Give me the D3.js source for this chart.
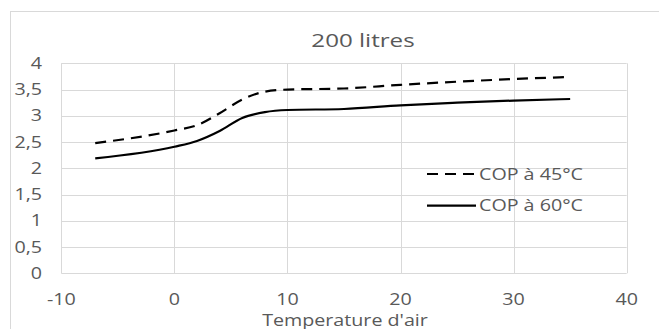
<!DOCTYPE html>
<html><head><meta charset="utf-8">
<script src="https://cdn.jsdelivr.net/npm/d3@7"></script>
<style>html,body{margin:0;padding:0;background:#fff;}svg{display:block;}</style>
</head><body>
<script>
const title = "200 litres";
const xTitle = "Temperature d'air";
const temps = [-7, 0, 2, 4, 6, 8, 10, 15, 20, 25, 30, 35];
const cop45 = [2.48, 2.72, 2.82, 3.05, 3.31, 3.46, 3.50, 3.52, 3.59, 3.65, 3.70, 3.74];
const cop60 = [2.19, 2.41, 2.52, 2.71, 2.96, 3.07, 3.11, 3.13, 3.20, 3.25, 3.29, 3.32];
const seriesNames = ["COP à 45°C", "COP à 60°C"];
const xTicks = [-10, 0, 10, 20, 30, 40];
const yTicks = [0, 0.5, 1, 1.5, 2, 2.5, 3, 3.5, 4];

const W = 659, H = 329;
const svg = d3.select("body").append("svg").attr("width", W).attr("height", H);
const font = "'Open Sans', sans-serif";
const txt = "#595959", grid = "#d9d9d9";
const SX = 1.23;

function label(parent, x0, y0, s, anchor, size, sx) {
  parent.append("g").attr("transform", `translate(${x0},${y0}) scale(${sx || SX},1)`)
    .append("text").attr("x", 0).attr("y", 0).attr("dy", "0.35em")
    .attr("text-anchor", anchor).attr("font-family", font).attr("font-size", size)
    .attr("fill", txt).text(s);
}

svg.append("rect").attr("x", 10.5).attr("y", 11.5).attr("width", W).attr("height", H)
  .attr("fill", "none").attr("stroke", grid);

const x = d3.scaleLinear().domain([-10, 40]).range([61.3, 626.7]);
const y = d3.scaleLinear().domain([0, 4]).range([273.3, 63.3]);

const g = svg.append("g");
g.selectAll(".vg").data(xTicks).join("line")
  .attr("x1", d => Math.round(x(d)) + 0.5).attr("x2", d => Math.round(x(d)) + 0.5)
  .attr("y1", y(4)).attr("y2", y(0)).attr("stroke", grid);
g.selectAll(".hg").data(yTicks).join("line")
  .attr("x1", x(-10)).attr("x2", x(40))
  .attr("y1", d => Math.round(y(d)) + 0.5).attr("y2", d => Math.round(y(d)) + 0.5).attr("stroke", grid);

yTicks.forEach(d => label(g, 42, y(d), String(d).replace(".", ","), "end", 16));
xTicks.forEach(d => label(g, x(d), 299, String(d), "middle", 16));

label(svg, 345, 320, xTitle, "middle", 16);
label(svg, 363, 40, title, "middle", 19, 1.27);

const line = d3.line().x(d => x(d[0])).y(d => y(d[1])).curve(d3.curveMonotoneX);
const data45 = temps.map((t, i) => [t, cop45[i]]);
const data60 = temps.map((t, i) => [t, cop60[i]]);
svg.append("path").attr("d", line(data45)).attr("fill", "none").attr("stroke", "#000")
  .attr("stroke-width", 2.2).attr("stroke-dasharray", "11,7");
svg.append("path").attr("d", line(data60)).attr("fill", "none").attr("stroke", "#000")
  .attr("stroke-width", 2.2);

const leg = [{n: seriesNames[0], dash: "11,7", y: 174}, {n: seriesNames[1], dash: null, y: 205.7}];
leg.forEach(l => {
  svg.append("line").attr("x1", 427).attr("x2", 476).attr("y1", l.y).attr("y2", l.y)
    .attr("stroke", "#000").attr("stroke-width", 2.2).attr("stroke-dasharray", l.dash);
  label(svg, 479, l.y, l.n, "start", 16);
});
</script>
</body></html>
